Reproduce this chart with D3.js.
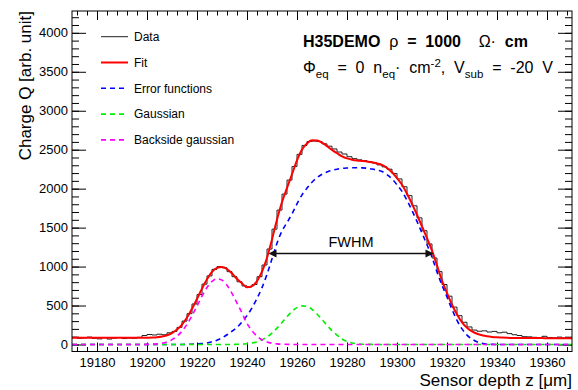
<!DOCTYPE html>
<html>
<head>
<meta charset="utf-8">
<script src="https://cdn.jsdelivr.net/npm/d3@7"></script>
<style>
  body { margin: 0; background: #fff; }
  text { font-family: "Liberation Sans", Arial, Helvetica, sans-serif; }
</style>
</head>
<body>
<div id="plot"></div>
<script>
// Sampling grid of the fit curves (um), 2 um step
var zGrid = d3.range(19170, 19371, 2);
// Histogram bin edges (um), 100 bins of 2 um
var binEdges = d3.range(19170, 19371, 2);

// Measured charge per bin
var dataQ = [
    92, 80, 85, 95, 78, 72, 88, 70, 82, 90,
    76, 84, 80, 92, 115, 128, 122, 132, 125, 150,
    168, 220, 300, 395, 520, 640, 775, 880, 965, 1000,
    985, 935, 870, 805, 752, 738, 770, 870, 1020, 1225,
    1480, 1725, 1930, 2110, 2285, 2440, 2555, 2605, 2610, 2605,
    2575, 2545, 2510, 2470, 2445, 2410, 2385, 2370, 2360, 2345,
    2330, 2305, 2280, 2250, 2195, 2125, 2025, 1910, 1780, 1625,
    1460, 1290, 1110, 935, 770, 620, 480, 370, 285, 225,
    185, 170, 175, 160, 168, 150, 158, 140, 125, 115,
    100, 98, 92, 88, 105, 90, 86, 95, 84, 88
];

// Total fit
var fitQ = [
    85, 85, 85, 85, 85, 85, 85, 85, 85, 85,
    85, 85, 85, 85, 85, 87, 89, 93, 102, 119,
    147, 191, 256, 346, 458, 586, 717, 836, 931, 984,
    996, 969, 911, 840, 785, 735, 749, 814, 934, 1113,
    1348, 1603, 1829, 2009, 2185, 2363, 2502, 2580, 2620, 2617,
    2590, 2546, 2497, 2455, 2415, 2388, 2372, 2362, 2356, 2349,
    2338, 2323, 2305, 2265, 2210, 2135, 2050, 1935, 1805, 1665,
    1515, 1365, 1205, 1015, 820, 660, 510, 385, 285, 215,
    168, 138, 118, 105, 97, 92, 89, 86, 84, 83,
    83, 83, 82, 82, 82, 81, 81, 81, 80, 80,
    80
];

// Error functions component
var erfQ = [
    0, 0, 0, 0, 0, 0, 0, 0, 0, 0,
    0, 0, 0, 0, 0, 0, 0, 0, 0, 0,
    0, 0, 0, 2, 4, 8, 12, 20, 35, 55,
    85, 125, 170, 220, 290, 370, 470, 590, 730, 900,
    1100, 1300, 1457, 1565, 1675, 1805, 1921, 2007, 2083, 2140,
    2185, 2215, 2235, 2250, 2260, 2265, 2268, 2268, 2267, 2262,
    2252, 2238, 2220, 2180, 2125, 2050, 1965, 1850, 1720, 1580,
    1430, 1280, 1120, 930, 760, 610, 450, 310, 200, 120,
    70, 35, 15, 5, 2, 0, 0, 0, 0, 0,
    0, 0, 0, 0, 0, 0, 0, 0, 0, 0,
    0
];

// Gaussian component
var gausQ = [
    0, 0, 0, 0, 0, 0, 0, 0, 0, 0,
    0, 0, 0, 0, 0, 0, 0, 0, 0, 0,
    0, 0, 0, 0, 0, 0, 0, 0, 0, 0,
    0, 0, 0, 3, 5, 10, 19, 34, 59, 96,
    147, 210, 283, 357, 424, 473, 496, 488, 452, 392,
    320, 246, 177, 120, 70, 38, 19, 9, 4, 2,
    1, 0, 0, 0, 0, 0, 0, 0, 0, 0,
    0, 0, 0, 0, 0, 0, 0, 0, 0, 0,
    0, 0, 0, 0, 0, 0, 0, 0, 0, 0,
    0, 0, 0, 0, 0, 0, 0, 0, 0, 0,
    0
];

// Backside gaussian component
var backQ = [
    0, 0, 0, 0, 0, 0, 0, 0, 0, 0,
    0, 0, 0, 0, 0, 2, 4, 8, 17, 34,
    62, 106, 171, 259, 369, 493, 620, 731, 811, 844,
    826, 759, 656, 532, 405, 270, 175, 105, 60, 32,
    16, 8, 4, 2, 1, 0, 0, 0, 0, 0,
    0, 0, 0, 0, 0, 0, 0, 0, 0, 0,
    0, 0, 0, 0, 0, 0, 0, 0, 0, 0,
    0, 0, 0, 0, 0, 0, 0, 0, 0, 0,
    0, 0, 0, 0, 0, 0, 0, 0, 0, 0,
    0, 0, 0, 0, 0, 0, 0, 0, 0, 0,
    0
];

// FWHM arrow: ends (um) and height (charge)
var fwhmZ = [19248.6, 19314.6];
var fwhmQ = 1168;

var xMajor = d3.range(19180, 19361, 20);
var xMinor = d3.range(19172, 19370, 4);
var yMajor = d3.range(0, 4001, 500);
var yMinor = d3.range(0, 4201, 100);

var legendNames = ["Data", "Fit", "Error functions", "Gaussian", "Backside gaussian"];
var legendColors = ["#222", "#ff0000", "#0000ff", "#00ee00", "#ff00ff"];

var W = 578, H = 390;
var frame = { left: 72, right: 572, top: 11, bottom: 351.5 };

var svg = d3.select("div#plot").append("svg")
    .attr("width", W)
    .attr("height", H)
    .attr("viewBox", "0 0 " + W + " " + H);

var x = d3.scaleLinear().domain([19170, 19370]).range([frame.left, frame.right]);
var y = d3.scaleLinear().domain([-90, 4280]).range([frame.bottom, frame.top]);

svg.append("clipPath").attr("id", "frameclip")
    .append("rect")
        .attr("x", frame.left).attr("y", frame.top)
        .attr("width", frame.right - frame.left).attr("height", frame.bottom - frame.top);

// Axes: ticks drawn inside the frame on all four sides
function styleAxis(g) {
    g.select(".domain").remove();
    g.selectAll(".tick line").attr("stroke", "#000");
    g.selectAll("text").attr("font-family", "Liberation Sans, Arial, sans-serif")
        .attr("font-size", 13).attr("fill", "#000");
}

svg.append("g").attr("transform", "translate(0," + frame.bottom + ")")
    .call(d3.axisBottom(x).tickValues(xMinor).tickSize(-4.5).tickFormat(""))
    .call(styleAxis);
svg.append("g").attr("transform", "translate(0," + frame.bottom + ")")
    .call(d3.axisBottom(x).tickValues(xMajor).tickSizeInner(-9).tickSizeOuter(0)
        .tickPadding(6).tickFormat(d3.format("d")))
    .call(styleAxis);
svg.append("g").attr("transform", "translate(0," + frame.top + ")")
    .call(d3.axisTop(x).tickValues(xMinor).tickSize(-4.5).tickFormat(""))
    .call(styleAxis);
svg.append("g").attr("transform", "translate(0," + frame.top + ")")
    .call(d3.axisTop(x).tickValues(xMajor).tickSize(-9).tickFormat(""))
    .call(styleAxis);

svg.append("g").attr("transform", "translate(" + frame.left + ",0)")
    .call(d3.axisLeft(y).tickValues(yMinor).tickSize(-7).tickFormat(""))
    .call(styleAxis);
svg.append("g").attr("transform", "translate(" + frame.left + ",0)")
    .call(d3.axisLeft(y).tickValues(yMajor).tickSizeInner(-14).tickSizeOuter(0)
        .tickPadding(4).tickFormat(d3.format("d")))
    .call(styleAxis);
svg.append("g").attr("transform", "translate(" + frame.right + ",0)")
    .call(d3.axisRight(y).tickValues(yMinor).tickSize(-7).tickFormat(""))
    .call(styleAxis);
svg.append("g").attr("transform", "translate(" + frame.right + ",0)")
    .call(d3.axisRight(y).tickValues(yMajor).tickSize(-14).tickFormat(""))
    .call(styleAxis);

// Curves
var g_plot = svg.append("g").attr("clip-path", "url(#frameclip)");

var histPts = dataQ.map(function(q, i) { return [binEdges[i], q]; });
histPts.push([binEdges[dataQ.length], dataQ[dataQ.length - 1]]);

g_plot.append("path")
    .attr("d", d3.line().x(d => x(d[0])).y(d => y(d[1])).curve(d3.curveStepAfter)(histPts))
    .attr("fill", "none")
    .attr("stroke", legendColors[0])
    .attr("stroke-width", 1);

var curve = d3.line()
    .x((d, i) => x(zGrid[i]))
    .y(d => y(d))
    .curve(d3.curveMonotoneX);

var comps = [
    { vals: erfQ, color: legendColors[2] },
    { vals: gausQ, color: legendColors[3] },
    { vals: backQ, color: legendColors[4] }
];

g_plot.append("path")
    .attr("d", curve(fitQ))
    .attr("fill", "none")
    .attr("stroke", legendColors[1])
    .attr("stroke-width", 2);

comps.forEach(function(c) {
    g_plot.append("path")
        .attr("d", curve(c.vals))
        .attr("fill", "none")
        .attr("stroke", c.color)
        .attr("stroke-width", 1.6)
        .attr("stroke-dasharray", "5,4");
});

// Frame
svg.append("rect")
    .attr("x", frame.left).attr("y", frame.top)
    .attr("width", frame.right - frame.left).attr("height", frame.bottom - frame.top)
    .attr("fill", "none").attr("stroke", "#000").attr("stroke-width", 1);

// FWHM arrow
var ax1 = x(fwhmZ[0]), ax2 = x(fwhmZ[1]), ay = y(fwhmQ);
svg.append("line")
    .attr("x1", ax1 + 6).attr("x2", ax2 - 6)
    .attr("y1", ay).attr("y2", ay)
    .attr("stroke", "#111").attr("stroke-width", 1.5);
svg.append("path")
    .attr("d", "M" + ax1 + "," + ay + "l8,-4l0,8z")
    .attr("fill", "#111");
svg.append("path")
    .attr("d", "M" + ax2 + "," + ay + "l-8,-4l0,8z")
    .attr("fill", "#111");
svg.append("text")
    .attr("x", (ax1 + ax2) / 2).attr("y", ay - 6)
    .attr("text-anchor", "middle")
    .attr("font-size", 14.5)
    .text("FWHM");

// Legend
var legend = svg.append("g");
legendNames.forEach(function(name, i) {
    var ly = 36.7 + i * 25.8;
    legend.append("line")
        .attr("x1", 101).attr("x2", 128)
        .attr("y1", ly).attr("y2", ly)
        .attr("stroke", legendColors[i])
        .attr("stroke-width", i === 0 ? 1 : (i === 1 ? 2 : 1.6))
        .attr("stroke-dasharray", i > 1 ? "5,4" : null);
    legend.append("text")
        .attr("x", 134).attr("y", ly)
        .attr("dy", "0.36em")
        .attr("font-size", 12)
        .text(name);
});

// Axis titles
svg.append("text")
    .attr("x", frame.right).attr("y", 385.5)
    .attr("text-anchor", "end")
    .attr("font-size", 17)
    .text("Sensor depth z [\u03bcm]");

svg.append("text")
    .attr("transform", "translate(30.5," + frame.top + ") rotate(-90)")
    .attr("text-anchor", "end")
    .attr("font-size", 17)
    .text("Charge Q [arb. unit]");

// Sample information (TLatex-like, wide spaces)
var t1 = svg.append("text")
    .attr("x", 303).attr("y", 47)
    .attr("font-size", 16)
    .attr("xml:space", "preserve")
    .style("white-space", "pre")
    .attr("word-spacing", 4.4);
t1.append("tspan").attr("font-weight", "bold").text("H35DEMO");
t1.append("tspan").text(" \u03c1 ");
t1.append("tspan").attr("font-weight", "bold").text("= 1000");
t1.append("tspan").text("  \u03a9\u00b7 ");
t1.append("tspan").attr("font-weight", "bold").text("cm");

var t2 = svg.append("text")
    .attr("x", 303).attr("y", 73)
    .attr("font-size", 16)
    .attr("xml:space", "preserve")
    .style("white-space", "pre")
    .attr("word-spacing", 4.4);
t2.append("tspan").text("\u03a6");
t2.append("tspan").attr("font-size", 11.5).attr("dy", 5).text("eq");
t2.append("tspan").attr("dy", -5).text(" = 0 n");
t2.append("tspan").attr("font-size", 11.5).attr("dy", 5).text("eq");
t2.append("tspan").attr("dy", -5).text("\u00b7 cm");
t2.append("tspan").attr("font-size", 11.5).attr("dy", -6).text("-2");
t2.append("tspan").attr("dy", 6).text(", V");
t2.append("tspan").attr("font-size", 11.5).attr("dy", 5).text("sub");
t2.append("tspan").attr("dy", -5).text(" = -20 V");
</script>
</body>
</html>
